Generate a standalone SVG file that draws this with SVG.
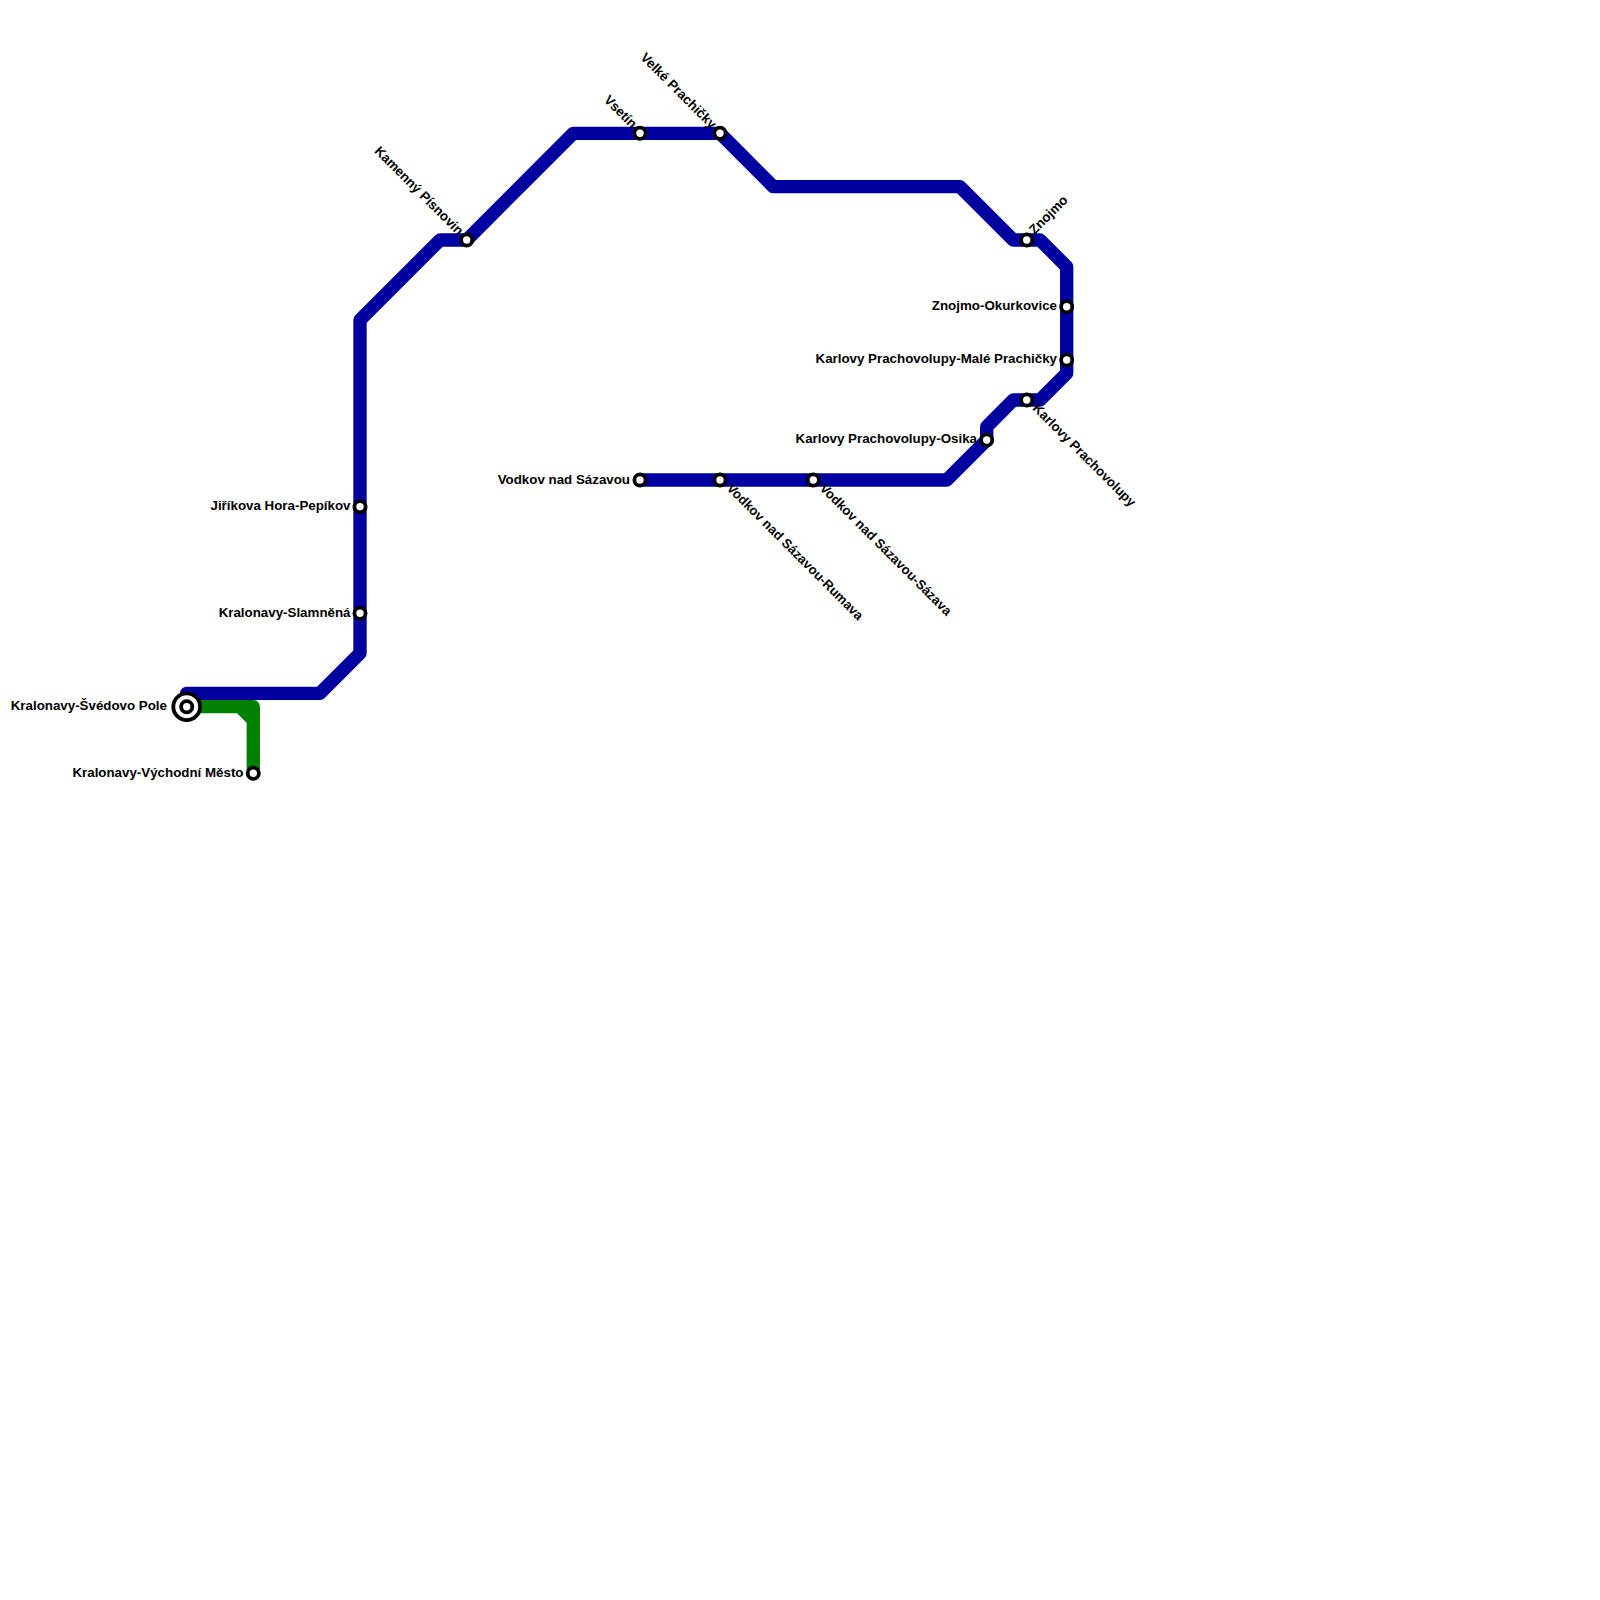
<svg xmlns="http://www.w3.org/2000/svg" width="1600" height="1600" viewBox="0 0 1600 1600">
<style>
.l{fill:none;stroke-width:13.33;stroke-linejoin:round;stroke-linecap:round}
.s{fill:#fff;stroke:#000;stroke-width:3.8}
.o{fill:#fff;stroke:#000;stroke-width:3.8}
text{font-family:"Liberation Sans",Arial,sans-serif;font-weight:bold;font-size:13.33px;fill:#000}
.e{text-anchor:end}
.r{font-size:13.2px}
</style>
<rect width="1600" height="1600" fill="#fff"/>
<g id="connectors">
<path class="l" stroke="#008000" d="M186.7 706.7H240L253.3 720V773.3M240 706.7H253.3V720"/>
<path class="l" stroke="#0000a0" d="M186.7 693.3H320L360 653.3V320L440 240H466.7L573.3 133.3H720L773.3 186.7H960L1013.3 240H1040L1066.7 266.7V373.3L1040 400H1013.3L986.7 426.7V440L946.7 480H640"/>
</g>
<g id="n1"><circle class="o" cx="186.7" cy="706.7" r="13.4"/><circle class="o" cx="186.7" cy="706.7" r="5.6"/><text class="e" x="167" y="710">Kralonavy-Švédovo Pole</text></g>
<g id="n2"><circle class="s" cx="253.3" cy="773.3" r="5.6"/><text class="e" x="243.5" y="776.5">Kralonavy-Východní Město</text></g>
<g id="n3"><circle class="s" cx="360" cy="613.3" r="5.6"/><text class="e" x="350.5" y="616.5">Kralonavy-Slamněná</text></g>
<g id="n4"><circle class="s" cx="360" cy="506.7" r="5.6"/><text class="e" x="350.5" y="510">Jiříkova Hora-Pepíkov</text></g>
<g id="n5"><circle class="s" cx="466.7" cy="240" r="5.6"/><text class="e" transform="translate(458 236) rotate(45)">Kamenný Písnovin</text></g>
<g id="n6"><circle class="s" cx="640" cy="133.3" r="5.6"/><text class="e" transform="translate(631.5 129) rotate(45)">Vsetín</text></g>
<g id="n7"><circle class="s" cx="720" cy="133.3" r="5.6"/><text class="e" transform="translate(711 129.5) rotate(45)">Velké Prachičky</text></g>
<g id="n8"><circle class="s" cx="1026.7" cy="240" r="5.6"/><text transform="translate(1034.5 235) rotate(-45)">Znojmo</text></g>
<g id="n9"><circle class="s" cx="1066.7" cy="306.7" r="5.6"/><text class="e" x="1057" y="310">Znojmo-Okurkovice</text></g>
<g id="n10"><circle class="s" cx="1066.7" cy="360" r="5.6"/><text class="e" x="1057" y="363">Karlovy Prachovolupy-Malé Prachičky</text></g>
<g id="n11"><circle class="s" cx="1026.7" cy="400" r="5.6"/><text class="r" transform="translate(1032 409) rotate(45)">Karlovy Prachovolupy</text></g>
<g id="n12"><circle class="s" cx="986.7" cy="440" r="5.6"/><text class="e" x="977" y="443">Karlovy Prachovolupy-Osika</text></g>
<g id="n13"><circle class="s" cx="813.3" cy="480" r="5.6"/><text class="r" transform="translate(819 489) rotate(45)">Vodkov nad Sázavou-Sázava</text></g>
<g id="n14"><circle class="s" cx="720" cy="480" r="5.6"/><text class="r" transform="translate(726 489) rotate(45)">Vodkov nad Sázavou-Rumava</text></g>
<g id="n15"><circle class="s" cx="640" cy="480" r="5.6"/><text class="e" x="630" y="483.5">Vodkov nad Sázavou</text></g>
</svg>
